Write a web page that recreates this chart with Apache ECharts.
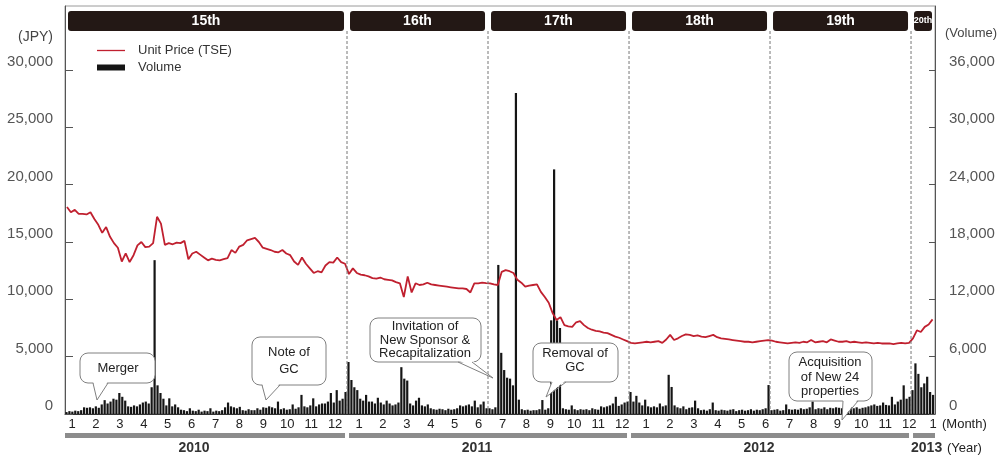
<!DOCTYPE html>
<html><head><meta charset="utf-8">
<script src="https://cdn.jsdelivr.net/npm/echarts@6/dist/echarts.min.js"></script>
<style>html,body{margin:0;padding:0;background:#fff}#c{width:1004px;height:460px}</style>
</head><body><div id="c"></div>
<script>
// ---- data (x unit = months since Jan 2010) ----
const PRICE_PER_MONTH = 6;
const price = [
18050,17600,17800,17450,17450,17400,
17600,17000,16500,15800,16300,15450,
14900,14500,13300,14000,13250,13850,
14700,15000,14550,14600,14900,17200,
16600,14750,14900,14800,14950,14900,
15100,13500,14000,14150,13900,13650,
13400,13550,13450,13400,13500,13600,
14300,14050,14600,14750,15150,15250,
15350,15000,14500,14400,14300,14150,
14100,14300,14000,13850,13300,13000,
13650,13100,12700,12300,12450,12350,
12950,13250,13200,13650,13250,13100,
12200,12700,12300,12150,12100,12000,
11850,11800,11900,11750,11700,11650,
11500,11400,10200,12000,10600,11400,
11250,11300,11450,11300,11250,11200,
11150,11100,11050,11000,10950,10950,
10900,10600,11400,11400,11450,11420,
11400,11300,11250,12400,12550,12450,
12300,11700,11450,11100,11200,11250,
11300,10650,10200,9700,8800,8200,
8450,7750,7650,7600,8000,8100,
7750,7500,7350,7250,7200,7100,
7050,6900,6750,6650,6500,6350,
6200,6150,6200,6250,6300,6250,
6300,6350,6200,6500,6900,6450,
6600,6800,6950,6900,6800,6850,
6750,6700,6800,6900,6700,6600,
6550,6500,6450,6400,6350,6300,
6300,6250,6300,6350,6400,6450,
6400,6300,6250,6200,6150,6200,
6250,6200,6300,6250,6450,6250,
6300,6350,6250,6500,6400,6300,
6300,6350,6250,6300,6250,6200,
6250,6200,6150,6200,6150,6150,
6150,6100,6150,6200,6150,6200,
6600,7300,7150,7600,7800,8250
];
const VOLUME_PER_MONTH = 8;
const volume = [
200,300,250,350,300,400,700,650,
700,600,800,650,1000,1450,1100,1300,
1600,1500,2200,1800,1400,800,750,900,
800,1000,1200,1300,1100,2800,16100,3000,
2200,1600,900,1640,800,1000,700,450,
400,300,600,350,300,450,250,350,
300,600,250,350,300,400,700,1200,
800,700,600,750,400,350,500,400,
400,600,450,700,650,800,700,600,
1300,500,600,450,500,1000,550,700,
2000,800,700,900,1640,800,1000,1100,
1100,1300,2200,1200,2500,1400,1600,2300,
5440,3560,2800,2500,1600,1400,2000,1300,
1300,1100,1700,1200,1000,1400,1100,900,
1000,1200,4900,3700,3500,1100,900,1400,
1700,900,800,1000,600,500,450,550,
500,400,550,450,500,600,900,800,
900,1000,800,1400,700,1000,1300,600,
600,500,700,15600,6400,4600,3800,3700,
3000,33600,1500,500,400,450,350,400,
400,500,1460,450,600,9800,25600,9800,
9000,600,500,450,900,500,400,500,
450,500,400,600,500,450,800,700,
800,900,1100,1800,850,1000,1200,1300,
2300,1300,1900,1200,900,1500,800,700,
800,700,1100,800,900,4100,2830,900,
700,600,800,500,650,700,1400,600,
400,450,350,500,1200,400,350,450,
400,350,450,500,300,400,450,350,
400,500,350,450,400,500,600,3030,
400,450,500,350,400,1000,500,450,
500,450,600,500,550,700,1300,500,
600,550,700,500,650,600,700,650,
600,700,650,1300,600,700,550,650,
700,800,900,1000,850,900,1200,950,
900,1800,1000,1300,1500,3000,1600,1800,
2500,5300,4200,2800,3200,3900,2300,2000
];
const periodNames = ['15th','16th','17th','18th','19th','20th'];
const periodBounds = [0,12,18,24,30,36,37.02];
const yearNames = ['2010','2011','2012','2013'];
const yearBounds = [0,12,24,36,37.02];
const monthLabels = [1,2,3,4,5,6,7,8,9,10,11,12,1,2,3,4,5,6,7,8,9,10,11,12,1,2,3,4,5,6,7,8,9,10,11,12,1];
const priceTicks = [0,5000,10000,15000,20000,25000,30000];
const volumeTicks = [0,6000,12000,18000,24000,30000,36000];

const FONT = '"Liberation Sans", Arial, sans-serif';
const fmt = v => v.toLocaleString('en-US');

const priceData = price.map((p,i)=>[(i+0.5)/PRICE_PER_MONTH, p]);
const volumeData = volume.map((v,i)=>[(i+0.5)/VOLUME_PER_MONTH, v]);
const periodData = periodNames.map((n,i)=>[periodBounds[i], periodBounds[i+1]]);
const yearData = yearNames.map((n,i)=>[yearBounds[i], yearBounds[i+1]]);

function bubble(x,y,w,h,lines,lh,cx,cy,tail){
  const [b1,tip,b2] = tail;
  return [
    {type:'rect', z:100, shape:{x,y,width:w,height:h,r:8}, style:{fill:'#fff',stroke:'#808080',lineWidth:1}},
    {type:'polygon', z:101, shape:{points:[[b1[0],b1[1]-2],tip,[b2[0],b2[1]-2]]}, style:{fill:'#fff'}},
    {type:'polyline', z:102, shape:{points:[b1,tip,b2]}, style:{stroke:'#808080',fill:null,lineWidth:1}},
    {type:'text', z:103, x:cx, y:cy, style:{text:lines.join('\n'), font:'13px '+FONT, fill:'#222', align:'center', verticalAlign:'middle', lineHeight:lh}}
  ];
}

const chart = echarts.init(document.getElementById('c'), null, {renderer:'canvas'});
chart.setOption({
  animation:false,
  backgroundColor:'#fff',
  grid:{left:65,right:69,top:6,bottom:46,show:true,borderColor:'#9a9a9a',borderWidth:1},
  legend:{
    orient:'vertical', left:92, top:39, itemWidth:28, itemHeight:6, itemGap:4,
    symbolKeepAspect:true,
    textStyle:{fontSize:13,color:'#333',fontFamily:FONT,padding:[0,0,0,8]},
    data:[{name:'Unit Price (TSE)',icon:'path://M0,0H28V1.3H0Z'},{name:'Volume',icon:'rect'}]
  },
  xAxis:[
    {type:'value',min:0,max:37.02,position:'bottom',
     axisLine:{show:true,onZero:false,lineStyle:{color:'#333',width:1}},axisTick:{show:false},axisLabel:{show:false},splitLine:{show:false}},
    {type:'value',min:-0.293,max:36.08,position:'bottom',offset:0,
     axisLine:{show:false,onZero:false},axisTick:{show:false},splitLine:{show:false},
     axisLabel:{customValues:monthLabels.map((m,k)=>k),formatter:v=>String(monthLabels[Math.round(v)]),
       fontSize:13,color:'#222',fontFamily:FONT,margin:4}}
  ],
  yAxis:[
    {type:'value',min:0,max:35581,position:'left',
     axisLine:{show:true,onZero:false,lineStyle:{color:'#555'}},
     axisTick:{show:true,inside:true,length:8,customValues:priceTicks,lineStyle:{color:'#555'}},
     axisLabel:{customValues:priceTicks,formatter:v=>fmt(v),fontSize:15,color:'#555',fontFamily:FONT,margin:12,verticalAlign:'bottom',lineHeight:16},
     splitLine:{show:false}},
    {type:'value',min:0,max:42698,position:'right',
     axisLine:{show:true,onZero:false,lineStyle:{color:'#555'}},
     axisTick:{show:true,inside:true,length:6,customValues:volumeTicks,lineStyle:{color:'#555'}},
     axisLabel:{customValues:volumeTicks,formatter:v=>fmt(v),fontSize:15,color:'#555',fontFamily:FONT,margin:14,verticalAlign:'bottom',lineHeight:16},
     splitLine:{show:false}}
  ],
  series:[
    {name:'Volume',type:'bar',xAxisIndex:0,yAxisIndex:1,data:volumeData,barWidth:2.2,
     itemStyle:{color:'#151515'},z:2},
    {name:'Unit Price (TSE)',type:'line',xAxisIndex:0,yAxisIndex:0,data:priceData,
     symbol:'none',showSymbol:false,lineStyle:{color:'#c0202f',width:1.8},itemStyle:{color:'#c0202f'},z:3},
    {name:'periods',type:'custom',xAxisIndex:0,yAxisIndex:0,clip:false,z:5,
     data:periodData,encode:{x:[0,1]},
     renderItem:(params,api)=>{
       const cs=params.coordSys;
       const s=api.coord([api.value(0),0])[0], e=api.coord([api.value(1),0])[0];
       const i=params.dataIndex, narrow=(e-s)<40;
       const ch=[
         {type:'rect',shape:{x:s+3,y:cs.y+5,width:e-s-6,height:20,r:3},style:{fill:'#231815'}},
         {type:'text',x:(s+e)/2,y:cs.y+15,style:{text:periodNames[i],font:'bold '+(narrow?9:14)+'px '+FONT,fill:'#fff',align:'center',verticalAlign:'middle'}}
       ];
       if(i>0){
         ch.unshift({type:'line',shape:{x1:s,y1:cs.y+25,x2:s,y2:cs.y+cs.height},style:{stroke:'#777',lineWidth:1,lineDash:[3,2]}});
       }
       return {type:'group',children:ch};
     }},
    {name:'years',type:'custom',xAxisIndex:0,yAxisIndex:0,clip:false,z:5,
     data:yearData,encode:{x:[0,1]},
     renderItem:(params,api)=>{
       const cs=params.coordSys;
       const s=api.coord([api.value(0),0])[0], e=api.coord([api.value(1),0])[0];
       const i=params.dataIndex, first=i===0, last=i===yearNames.length-1;
       const x0=first?s:s+2, x1=last?e:e-2;
       const barY=cs.y+cs.height+19;
       return {type:'group',children:[
         {type:'rect',shape:{x:x0,y:barY,width:x1-x0,height:5},style:{fill:'#8c8c8c'}},
         {type:'text',x:last?x0-2:(x0+x1)/2-11,y:barY+15,style:{text:yearNames[i],font:'bold 14px '+FONT,fill:'#333',align:last?'left':'center',verticalAlign:'middle'}}
       ]};
     }}
  ],
  graphic:[
    {type:'text',x:53,y:37,style:{text:'(JPY)',font:'14px '+FONT,fill:'#444',align:'right',verticalAlign:'middle'}},
    {type:'text',x:945,y:33,style:{text:'(Volume)',font:'13px '+FONT,fill:'#444',align:'left',verticalAlign:'middle'}},
    {type:'text',x:942,y:424,style:{text:'(Month)',font:'13px '+FONT,fill:'#222',align:'left',verticalAlign:'middle'}},
    {type:'text',x:947,y:448,style:{text:'(Year)',font:'13px '+FONT,fill:'#222',align:'left',verticalAlign:'middle'}},
    ...bubble(80,353,75,30,['Merger'],14,118,368,[[93,383],[97,400],[108,383]]),
    ...bubble(252,337,74,48,['Note of','GC'],17,289,361,[[262,385],[266,400],[280,385]]),
    ...bubble(370,318,111,44,['Invitation of','New Sponsor &','Recapitalization'],13.5,425,340,[[458,362],[493,378],[472,362]]),
    ...bubble(533,343,85,39,['Removal of','GC'],14,575,360,[[552,382],[546,397],[566,382]]),
    ...bubble(789,352,83,49,['Acquisition','of New 24','properties'],14.5,830,377,[[843,401],[842,420],[858,401]])
  ]
});
</script></body></html>
